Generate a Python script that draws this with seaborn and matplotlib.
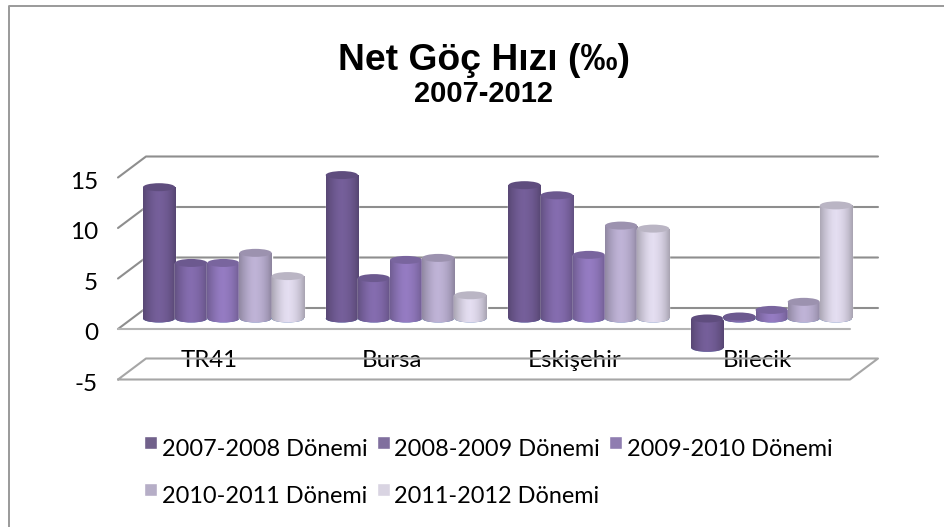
import numpy as np
import pandas as pd
import seaborn as sns
from matplotlib import pyplot as plt
from matplotlib.colors import LinearSegmentedColormap, to_rgb
from matplotlib.lines import Line2D
from matplotlib.patches import Ellipse

regions = ["TR41", "Bursa", "Eskişehir", "Bilecik"]
periods = ["2007-2008 Dönemi", "2008-2009 Dönemi", "2009-2010 Dönemi",
           "2010-2011 Dönemi", "2011-2012 Dönemi"]
rate_2007 = [13.0, 14.2, 13.2, -2.9]
rate_2008 = [5.5, 4.0, 12.2, 0.2]
rate_2009 = [5.5, 5.8, 6.3, 0.85]
rate_2010 = [6.5, 6.0, 9.2, 1.65]
rate_2011 = [4.2, 2.3, 8.9, 11.2]
y_ticks = [-5, 0, 5, 10, 15]
colours = ["#6f5a92", "#7e67a6", "#8d75b8", "#b5aacb", "#d8d2e4"]

W, H = 945, 527
PX_Y = 10.1     # pixels per unit
PX_X = 182.75   # pixels per category
LEFT, TOP, BOTTOM, BASE = 132, 130, 400, 318.5

sns.set_theme(style="white")
plt.rcParams["font.family"] = ["Lato", "DejaVu Sans"]

data = pd.DataFrame({"region": regions, periods[0]: rate_2007, periods[1]: rate_2008,
                     periods[2]: rate_2009, periods[3]: rate_2010, periods[4]: rate_2011})
data = data.melt(id_vars="region", var_name="period", value_name="rate")

fig = plt.figure(figsize=(W / 100, H / 100), dpi=100, facecolor="white")
ax = fig.add_axes([LEFT / W, 1 - BOTTOM / H, 4 * PX_X / W, (BOTTOM - TOP) / H])
ax.patch.set_alpha(0)
sns.barplot(data=data, x="region", y="rate", hue="period", order=regions, hue_order=periods,
            palette=colours, width=0.88, gap=0, ax=ax, zorder=3)

xlim = (-0.5, 3.5)
ylim = ((BASE - BOTTOM) / PX_Y, (BASE - TOP) / PX_Y)


def px_x(p):
    return (p - LEFT) / PX_X - 0.5


# 3D box: walls and floors are offset from the bar plane
front_off, back_off = (BASE - 329) / PX_Y, (BASE - 308) / PX_Y
for v in y_ticks:
    xs = [px_x(118), px_x(146), px_x(878)]
    ys = [v + front_off, v + back_off, v + back_off]
    if v == 0:
        ax.plot(xs, ys, color="#8e8e8e", lw=1.5, clip_on=False, zorder=1)
        ax.plot([px_x(118), px_x(850)], [v + front_off] * 2, color="#b4b4b4", lw=1.5,
                clip_on=False, zorder=1)
    elif v == -5:
        ax.plot(xs + [px_x(850), px_x(118)], ys + [v + front_off] * 2, color="#a6a6a6", lw=1.5,
                clip_on=False, zorder=1)
    else:
        ax.plot(xs, ys, color="#8e8e8e", lw=1.5, clip_on=False, zorder=1)

# cylinder look for the bars
ell_h = 8 / PX_Y
grad = np.array([0.8, 0.9, 0.98, 1.04, 1.06, 1.03, 0.98, 0.9, 0.78])
for i, (container, colour) in enumerate(zip(ax.containers, colours)):
    rgb = np.array(to_rgb(colour))
    cmap = LinearSegmentedColormap.from_list("c", [np.clip(rgb * g, 0, 1) for g in grad])
    z = 3 + i * 0.1
    for bar in container:
        x0, w = bar.get_x(), bar.get_width()
        y0, y1 = sorted((bar.get_y(), bar.get_y() + bar.get_height()))
        bottom = Ellipse((x0 + w / 2, y0), w, ell_h, zorder=z, lw=0)
        ax.add_patch(bottom)
        bar.set_zorder(z)
        for part in (bar, bottom):
            im = ax.imshow(np.linspace(0, 1, 64)[None, :], cmap=cmap, aspect="auto",
                           extent=(x0, x0 + w, y0 - ell_h, y1), zorder=z + 0.01)
            im.set_clip_path(part)
        top_col = np.clip(rgb * 0.86, 0, 1)
        ax.add_patch(Ellipse((x0 + w / 2, y1), w, ell_h, facecolor=top_col, lw=0, zorder=z + 0.02))

ax.set_xlim(*xlim)
ax.set_ylim(*ylim)
for s in ax.spines.values():
    s.set_visible(False)
ax.set_xlabel("")
ax.set_ylabel("")
ax.set_xticks(np.arange(4) - 14 / PX_X, labels=regions)
ax.set_yticks(np.array(y_ticks) + front_off - 0.25, labels=[str(v) for v in y_ticks])
ax.tick_params(axis="x", length=0, pad=-36, labelsize=17.3, labelcolor="black")
ax.tick_params(axis="y", length=0, pad=24.5, labelsize=17.5, labelcolor="black")

handles, labels = ax.get_legend_handles_labels()
ax.legend_.remove()
order = [0, 3, 1, 4, 2]
leg = fig.legend([handles[i] for i in order], [labels[i] for i in order], ncol=3, frameon=False,
                 loc="upper left", bbox_to_anchor=(144 / W, 1 - 439 / H), fontsize=16.9,
                 handlelength=0.553, handleheight=0.474, handletextpad=0.21, columnspacing=0.38,
                 labelspacing=1.12, borderpad=0, borderaxespad=0, labelcolor="black")
# swatches sit above the text baseline
for h in leg.legend_handles:
    h.set_y(5.0)

fig.text(484 / W, 1 - 61 / H, "Net Göç Hızı (‰)", fontsize=26.8, fontweight="bold",
         family=["Liberation Sans", "DejaVu Sans"], ha="center", va="center", color="black")
fig.text(484 / W, 1 - 94 / H, "2007-2012", fontsize=21, fontweight="bold",
         family=["Liberation Sans", "DejaVu Sans"], ha="center", va="center", color="black")

# chart frame, cut off at the right and bottom
fig.add_artist(Line2D([9 / W, 9 / W, 1], [0, 1 - 6 / H, 1 - 6 / H], color="#9a9a9a", lw=1.4))

fig.savefig("out.png", dpi=100)
